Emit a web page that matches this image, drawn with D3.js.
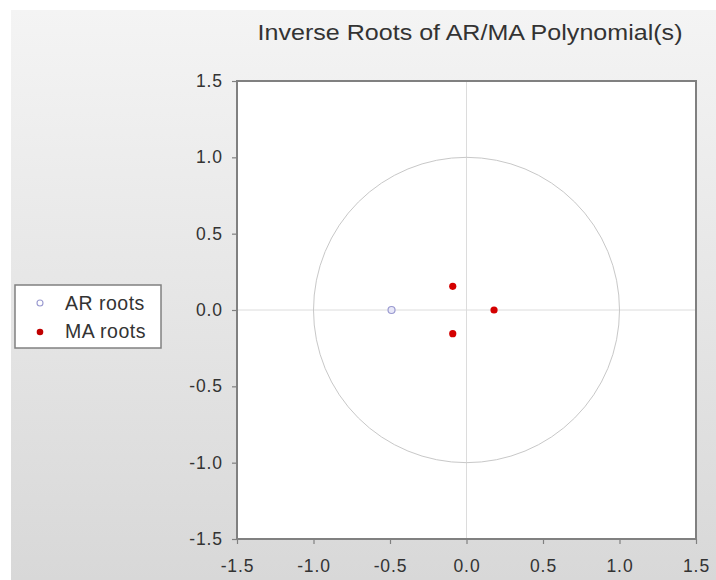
<!DOCTYPE html>
<html><head><meta charset="utf-8">
<script src="https://cdn.jsdelivr.net/npm/d3@7"></script>
<style>body{margin:0;background:#fff;}svg{display:block;font-family:"Liberation Sans",Arial,sans-serif;}</style>
</head><body>
<svg id="c" width="716" height="580"></svg>
<script>
const title = "Inverse Roots of AR/MA Polynomial(s)";
const tickValues = [-1.5, -1.0, -0.5, 0.0, 0.5, 1.0, 1.5];
const arRootsRe = [-0.49];
const arRootsIm = [0.0];
const maRootsRe = [-0.09, -0.09, 0.18];
const maRootsIm = [0.155, -0.155, 0.0];
const legendLabels = ["AR roots", "MA roots"];

const svg = d3.select("#c");
const defs = svg.append("defs");
const g = defs.append("linearGradient").attr("id","bg").attr("x1",0).attr("y1",0).attr("x2",0).attr("y2",1);
g.append("stop").attr("offset","0%").attr("stop-color","#f4f4f4");
g.append("stop").attr("offset","100%").attr("stop-color","#d8d8d8");
svg.append("rect").attr("x",11).attr("y",10).attr("width",705).attr("height",570).attr("fill","url(#bg)");

const L=237, R=696, T=81, B=539;
const x = d3.scaleLinear().domain([-1.5,1.5]).range([L,R]);
const y = d3.scaleLinear().domain([-1.5,1.5]).range([B,T]);

svg.append("rect").attr("x",L).attr("y",T).attr("width",R-L).attr("height",B-T).attr("fill","#fff");

// zero lines
svg.append("line").attr("x1",x(0)).attr("x2",x(0)).attr("y1",T).attr("y2",B).attr("stroke","#dcdcdc").attr("stroke-width",1);
svg.append("line").attr("x1",L).attr("x2",R).attr("y1",y(0)).attr("y2",y(0)).attr("stroke","#dcdcdc").attr("stroke-width",1);
// unit circle
svg.append("ellipse").attr("cx",x(0)).attr("cy",y(0)).attr("rx",x(1)-x(0)).attr("ry",y(0)-y(1))
  .attr("fill","none").attr("stroke","#c8c8c8").attr("stroke-width",1);

// axes
const loc = d3.formatLocale({decimal:".",thousands:",",grouping:[3],currency:["",""],minus:"-"});
const fmt = loc.format(".1f");
const ax = svg.append("g").attr("transform",`translate(0,${B})`)
  .call(d3.axisBottom(x).tickValues(tickValues).tickFormat(fmt).tickSize(5).tickSizeOuter(0).tickPadding(12));
const ay = svg.append("g").attr("transform",`translate(${L},0)`)
  .call(d3.axisLeft(y).tickValues(tickValues).tickFormat(fmt).tickSize(5).tickSizeOuter(0).tickPadding(9));
[ax,ay].forEach(a=>{
  a.select(".domain").remove();
  a.selectAll(".tick line").attr("stroke","#808080").attr("stroke-width",1.2);
  a.selectAll(".tick text").attr("fill","#333").style("font-size","17.5px")
    .style("letter-spacing","0.9px").style("font-family","'Liberation Sans',Arial,sans-serif");
});
ax.selectAll(".tick text").attr("dy","0.9em");
// frame
svg.append("rect").attr("x",L).attr("y",T).attr("width",R-L).attr("height",B-T)
  .attr("fill","none").attr("stroke","#808080").attr("stroke-width",2);

// points
const ar = arRootsRe.map((v,i)=>[v,arRootsIm[i]]);
const ma = maRootsRe.map((v,i)=>[v,maRootsIm[i]]);
svg.append("g").selectAll("circle").data(ar).join("circle")
  .attr("cx",d=>x(d[0])).attr("cy",d=>y(d[1])).attr("r",3.5)
  .attr("fill","#e8e8f8").attr("stroke","#9a9ad0").attr("stroke-width",1.2);
svg.append("g").selectAll("circle").data(ma).join("circle")
  .attr("cx",d=>x(d[0])).attr("cy",d=>y(d[1])).attr("r",3.6)
  .attr("fill","#d40000");

// title
svg.append("text").attr("x",470).attr("y",40).attr("text-anchor","middle")
  .attr("fill","#333").style("font-size","21.5px")
  .attr("textLength",425).attr("lengthAdjust","spacingAndGlyphs").text(title);

// legend
const lg = svg.append("g");
lg.append("rect").attr("x",15).attr("y",285).attr("width",146).attr("height",63)
  .attr("fill","#fff").attr("stroke","#808080").attr("stroke-width",1.5);
lg.append("circle").attr("cx",40).attr("cy",303).attr("r",3).attr("fill","#fff").attr("stroke","#9a9ad0").attr("stroke-width",1.1);
lg.append("circle").attr("cx",40).attr("cy",332).attr("r",3.3).attr("fill","#c00000");
legendLabels.forEach((t,i)=>{
  lg.append("text").attr("x",65).attr("y",310+i*28).attr("fill","#333").style("font-size","19.5px")
    .style("letter-spacing","0.5px").text(t);
});
</script>
</body></html>
